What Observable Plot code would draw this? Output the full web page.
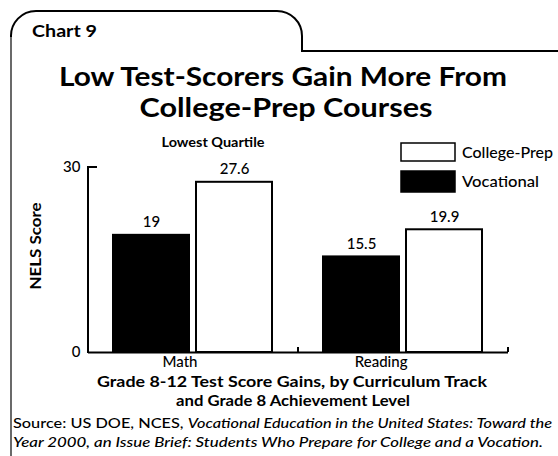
<!DOCTYPE html>
<html>
<head>
<meta charset="utf-8">
<script src="https://cdn.jsdelivr.net/npm/d3@7"></script>
<script src="https://cdn.jsdelivr.net/npm/@observablehq/plot@0.6"></script>
<style>
  html, body { margin: 0; padding: 0; background: #fff; }
  #root { position: relative; width: 558px; height: 456px; overflow: hidden; background: #fff; font-family: Lato, "Open Sans", sans-serif; }
  #root > svg { position: absolute; left: 0; top: 0; }
</style>
</head>
<body>
<div id="root"></div>
<script>
// ---- data ----
const subjects = ["Math", "Reading"];
const tracks = ["Vocational", "College-Prep"];
const vocational = [19, 15.5];
const collegePrep = [27.6, 19.9];
const yTicks = [0, 30];
const legendOrder = ["College-Prep", "Vocational"];

const data = subjects.flatMap((s, i) => [
  {subject: s, track: "Vocational", value: vocational[i]},
  {subject: s, track: "College-Prep", value: collegePrep[i]}
]);

const W = 558, H = 456;

const chart = Plot.plot({
  width: W, height: H,
  marginLeft: 87, marginRight: 50, marginTop: 167, marginBottom: 104,
  style: {fontFamily: "Lato, sans-serif", fontSize: "15px", background: "transparent", color: "black", overflow: "visible"},
  fx: {domain: subjects, padding: 0, label: null, axis: null},
  x: {domain: tracks, paddingInner: 0.083, paddingOuter: 0.295, axis: null},
  y: {domain: [0, 30], label: null},
  color: {domain: tracks, range: ["black", "white"]},
  marks: [
    Plot.barY(data, {fx: "subject", x: "track", y: "value", fill: "track", stroke: "black", strokeWidth: 2}),
    Plot.text(data, {fx: "subject", x: "track", y: "value", text: d => String(d.value), dy: -8, lineAnchor: "bottom", fontSize: 15, fontWeight: 500, fill: "black"}),
    Plot.ruleY([0], {stroke: "black", strokeWidth: 2}),
    Plot.axisY({ticks: yTicks, tickSize: 0, tickPadding: 8, fontSize: 15, fontWeight: 500, label: null}),
    // category labels under each group
    Plot.text(subjects, {fx: d => d, x: () => tracks[0], frameAnchor: "bottom", lineAnchor: "top", textAnchor: "end", dx: 46, dy: 4, text: d => d, fontSize: 15, fontWeight: 500, fill: "black"})
  ]
});

const root = document.getElementById("root");
root.appendChild(chart);

// axis line, tick at top, band boundary ticks computed from the scales
const ys = chart.scale("y");
const fxs = chart.scale("fx");
const sel = d3.select(chart);
const x0 = fxs.apply(subjects[0]);
const y0 = ys.apply(0), yTop = ys.apply(yTicks[1]);
const g = sel.append("g").attr("stroke", "black").attr("stroke-width", 2).attr("fill", "none");
g.append("line").attr("x1", x0).attr("x2", x0).attr("y1", y0 + 1).attr("y2", yTop - 1);
g.append("line").attr("x1", x0 - 1).attr("x2", x0 + 9).attr("y1", yTop).attr("y2", yTop);
subjects.forEach(s => {
  const xb = fxs.apply(s) + fxs.bandwidth;
  g.append("line").attr("x1", xb).attr("x2", xb).attr("y1", y0).attr("y2", y0 - 5);
});

// ---- overlay: frame, titles, legend, notes ----
const ov = d3.select(root).append("svg").attr("width", W).attr("height", H)
  .style("pointer-events", "none").attr("font-family", "Lato, sans-serif");

ov.append("path")
  .attr("d", "M11,456 L11,36")
  .attr("fill", "none").attr("stroke", "#444").attr("stroke-width", 1.6);
ov.append("path")
  .attr("d", "M11,37 A25,25 0 0 1 36,11 L277,11 A25,25 0 0 1 302,36 L302,51 L558,51")
  .attr("fill", "none").attr("stroke", "black").attr("stroke-width", 2);

ov.append("text").attr("x", 32).attr("y", 37).attr("font-size", 17).attr("font-weight", 700)
  .attr("textLength", 65).attr("lengthAdjust", "spacingAndGlyphs").text("Chart 9");

ov.append("text").attr("x", 283).attr("y", 86).attr("text-anchor", "middle")
  .attr("font-size", 27).attr("font-weight", 700).attr("textLength", 448).attr("lengthAdjust", "spacingAndGlyphs")
  .text("Low Test-Scorers Gain More From");
ov.append("text").attr("x", 286).attr("y", 117).attr("text-anchor", "middle")
  .attr("font-size", 27).attr("font-weight", 700).attr("textLength", 293).attr("lengthAdjust", "spacingAndGlyphs")
  .text("College-Prep Courses");

ov.append("text").attr("x", 213).attr("y", 147).attr("text-anchor", "middle")
  .attr("font-size", 14).attr("font-weight", 700).attr("textLength", 103).attr("lengthAdjust", "spacingAndGlyphs")
  .text("Lowest Quartile");

ov.append("text").attr("transform", "translate(41,246) rotate(-90)").attr("text-anchor", "middle")
  .attr("font-size", 15).attr("font-weight", 700).attr("textLength", 87).attr("lengthAdjust", "spacingAndGlyphs")
  .text("NELS Score");

// legend
const color = chart.scale("color");
const legendY = {"College-Prep": [143, 18, 158, 91], "Vocational": [171, 21, 187, 77]};
legendOrder.forEach(t => {
  const [ty, th, tb, tl] = legendY[t];
  ov.append("rect").attr("x", 401).attr("y", ty).attr("width", 54).attr("height", th)
    .attr("fill", color.apply(t)).attr("stroke", "black").attr("stroke-width", 1.5);
  ov.append("text").attr("x", 462).attr("y", tb).attr("font-size", 15).attr("font-weight", 500)
    .attr("textLength", tl).attr("lengthAdjust", "spacingAndGlyphs").text(t);
});

// x title
ov.append("text").attr("x", 292).attr("y", 387).attr("text-anchor", "middle")
  .attr("font-size", 15).attr("font-weight", 700).attr("textLength", 390).attr("lengthAdjust", "spacingAndGlyphs")
  .text("Grade 8-12 Test Score Gains, by Curriculum Track");
ov.append("text").attr("x", 293).attr("y", 406).attr("text-anchor", "middle")
  .attr("font-size", 15).attr("font-weight", 700).attr("textLength", 234).attr("lengthAdjust", "spacingAndGlyphs")
  .text("and Grade 8 Achievement Level");

// source
const s1 = ov.append("text").attr("x", 13).attr("y", 428).attr("font-size", 13.5).attr("font-weight", 500)
  .attr("textLength", 539).attr("lengthAdjust", "spacingAndGlyphs");
s1.append("tspan").text("Source: US DOE, NCES, ");
s1.append("tspan").attr("font-style", "italic").text("Vocational Education in the United States: Toward the");
ov.append("text").attr("x", 13).attr("y", 447).attr("font-size", 13.5).attr("font-weight", 500).attr("font-style", "italic")
  .attr("textLength", 530).attr("lengthAdjust", "spacingAndGlyphs")
  .text("Year 2000, an Issue Brief:  Students Who Prepare for College and a Vocation.");
</script>
</body>
</html>
